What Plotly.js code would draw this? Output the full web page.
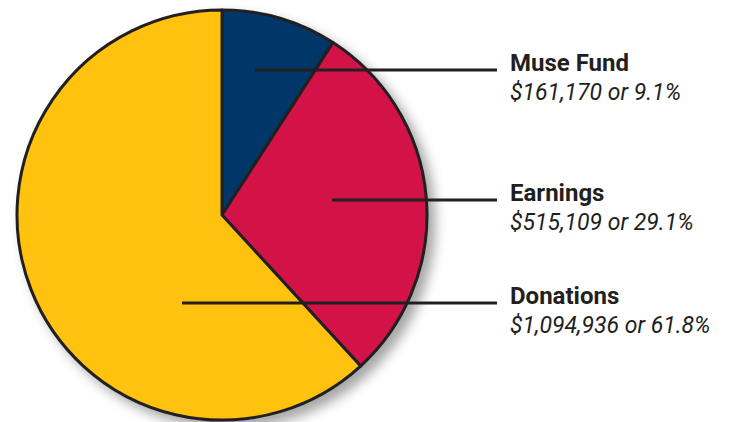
<!DOCTYPE html>
<html>
<head>
<meta charset="utf-8">
<script src="https://cdn.plot.ly/plotly-3.0.1.min.js"></script>
<style>
html,body{margin:0;padding:0;background:#fff;}
#chart{width:729px;height:422px;}
#chart .pielayer{filter:drop-shadow(7px 7px 6px rgba(0,0,0,0.35));}
</style>
</head>
<body>
<div id="chart"></div>
<script>
const categories = ["Muse Fund", "Earnings", "Donations"];
const amounts = [161170, 515109, 1094936];
const percents = ["9.1%", "29.1%", "61.8%"];
const colors = ["#003768", "#d31348", "#ffc20e"];

const FONT = 'Roboto, "Liberation Sans", Arial, sans-serif';

const cx = 222, cy = 215, r = 205, W = 729, H = 422;

const trace = {
  type: "pie",
  labels: categories,
  values: amounts,
  sort: false,
  direction: "clockwise",
  rotation: 0,
  textinfo: "none",
  hoverinfo: "label+value+percent",
  marker: { colors: colors, line: { color: "#231f20", width: 3 } },
  domain: { x: [(cx - r) / W, (cx + r) / W], y: [(H - cy - r) / H, (H - cy + r) / H] },
  showlegend: false
};

// leader line start points (px) inside each slice, and label y (px)
const lineStartX = [255, 332, 182];
const lineY = [70, 200, 303];
const lineEndX = 497;

const shapes = categories.map((c, i) => ({
  type: "line", xref: "paper", yref: "paper",
  x0: lineStartX[i] / W, x1: lineEndX / W,
  y0: 1 - lineY[i] / H, y1: 1 - lineY[i] / H,
  line: { color: "#231f20", width: 3 }
}));

const annotations = [];
categories.forEach((c, i) => {
  annotations.push({
    xref: "paper", yref: "paper",
    x: 508 / W, y: 1 - (lineY[i] - 7) / H,
    xanchor: "left", yanchor: "middle", align: "left",
    showarrow: false,
    text: "<b>" + c + "</b>",
    font: { family: FONT, size: 24, color: "#231f20" }
  });
  annotations.push({
    xref: "paper", yref: "paper",
    x: 508 / W, y: 1 - (lineY[i] + 22) / H,
    xanchor: "left", yanchor: "middle", align: "left",
    showarrow: false,
    text: "<i>$" + amounts[i].toLocaleString("en-US") + " or " + percents[i] + "</i>",
    font: { family: FONT, size: 23, color: "#231f20" }
  });
});

const layout = {
  width: W, height: H,
  margin: { l: 0, r: 0, t: 0, b: 0 },
  paper_bgcolor: "#ffffff",
  plot_bgcolor: "#ffffff",
  shapes: shapes,
  annotations: annotations
};

Plotly.newPlot("chart", [trace], layout, { displayModeBar: false, staticPlot: true });
</script>
</body>
</html>
